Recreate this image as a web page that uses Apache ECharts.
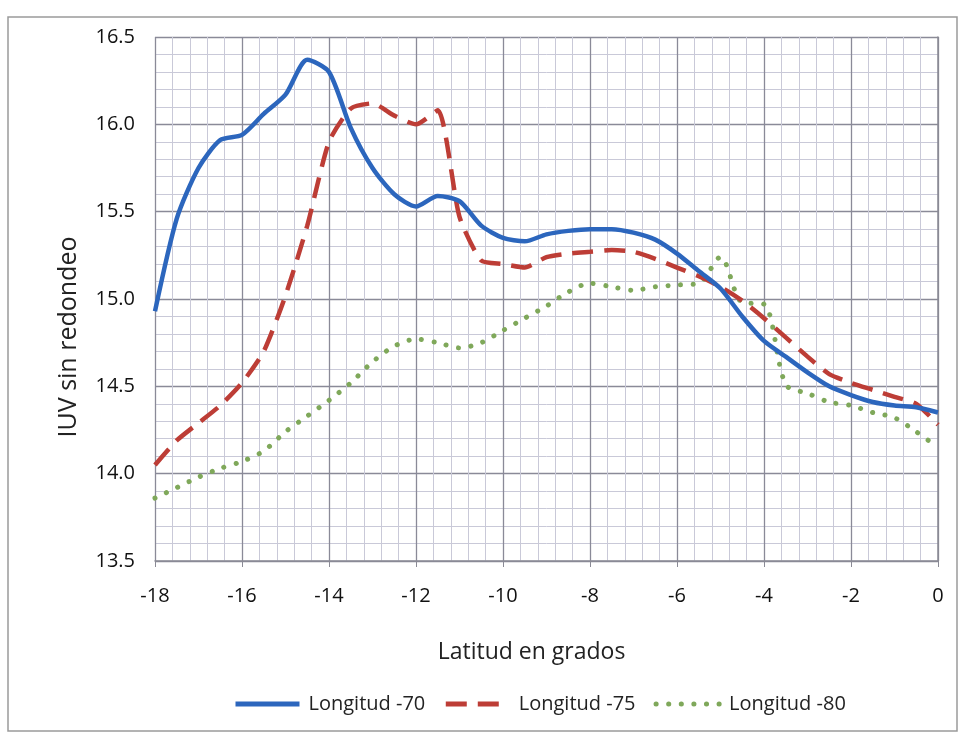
<!DOCTYPE html>
<html>
<head>
<meta charset="utf-8">
<script src="https://cdn.jsdelivr.net/npm/echarts@6/dist/echarts.min.js"></script>
<style>html,body{margin:0;padding:0;background:#fff;}#c{width:963px;height:734px;}</style>
</head>
<body>
<div id="c"></div>
<script>
const latitudes = [-18,-17.5,-17,-16.5,-16,-15.5,-15,-14.5,-14,-13.5,-13,-12.5,-12,-11.5,-11,-10.5,-10,-9.5,-9,-8.5,-8,-7.5,-7,-6.5,-6,-5.5,-5,-4.5,-4,-3.5,-3,-2.5,-2,-1.5,-1,-0.5,0];
const lon70 = [14.93,15.46,15.75,15.91,15.94,16.06,16.17,16.37,16.30,15.98,15.75,15.60,15.53,15.59,15.56,15.42,15.35,15.33,15.37,15.39,15.40,15.40,15.38,15.34,15.26,15.16,15.06,14.90,14.76,14.67,14.58,14.50,14.45,14.41,14.39,14.38,14.35];
const lon75 = [14.05,14.19,14.29,14.39,14.52,14.70,15.02,15.42,15.90,16.09,16.12,16.05,16.00,16.08,15.47,15.22,15.20,15.18,15.24,15.26,15.27,15.28,15.27,15.23,15.18,15.13,15.07,14.99,14.89,14.78,14.67,14.57,14.52,14.48,14.44,14.40,14.28];
const lon80 = [13.86,13.92,13.98,14.03,14.07,14.13,14.24,14.33,14.42,14.52,14.64,14.73,14.77,14.75,14.72,14.75,14.82,14.89,14.96,15.04,15.09,15.07,15.05,15.07,15.08,15.09,15.24,14.98,14.97,14.51,14.46,14.41,14.39,14.35,14.32,14.24,14.15];
const seriesNames = ['Longitud -70','Longitud -75','Longitud -80'];
const yTicks = [13.5,14.0,14.5,15.0,15.5,16.0,16.5];
const xTicks = [-18,-16,-14,-12,-10,-8,-6,-4,-2,0];

const font = '"Open Sans", Lato, sans-serif';
const pair = a => latitudes.map((x,i)=>[x,a[i]]);
const chart = echarts.init(document.getElementById('c'), null, {renderer:'canvas'});
chart.setOption({
  animation:false,
  backgroundColor:'#fff',
  graphic:[{type:'rect',shape:{x:8,y:17,width:949,height:714},style:{fill:'none',stroke:'#9a9a9a',lineWidth:1.5},z:-1}],
  grid:{left:155,right:25,top:37,bottom:173},
  legend:{
    top:689,left:228,itemWidth:64,itemHeight:14,itemGap:18,
    itemStyle:{opacity:0},
    lineStyle:{width:5},
    textStyle:{fontFamily:font,fontSize:20,color:'#222',padding:[0,0,0,4]},
    data:seriesNames
  },
  xAxis:{
    type:'value',min:xTicks[0],max:xTicks[xTicks.length-1],interval:2,
    name:'Latitud en grados',nameLocation:'middle',nameGap:80,
    nameTextStyle:{fontFamily:font,fontSize:23,color:'#222',padding:[0,30,0,0]},
    axisLine:{show:true,onZero:false,lineStyle:{color:'#8a8a95',width:1.5}},
    axisTick:{show:true,length:6,lineStyle:{color:'#8a8a95'}},
    axisLabel:{fontFamily:font,fontSize:20,color:'#111',margin:25},
    splitLine:{show:true,lineStyle:{color:'#8a8a98',width:1.3}},
    minorTick:{show:false,splitNumber:5},
    minorSplitLine:{show:true,lineStyle:{color:'#c9c9d8',width:1}}
  },
  yAxis:{
    type:'value',min:yTicks[0],max:yTicks[yTicks.length-1],interval:0.5,
    name:'IUV sin redondeo',nameLocation:'middle',nameGap:74,nameRotate:90,
    nameTextStyle:{fontFamily:font,fontSize:25,color:'#222',padding:[0,76,0,0]},
    axisLine:{show:true,lineStyle:{color:'#8a8a95',width:1.5}},
    axisTick:{show:true,length:6,lineStyle:{color:'#8a8a95'}},
    axisLabel:{fontFamily:font,fontSize:20,color:'#111',margin:20,formatter:v=>v.toFixed(1)},
    splitLine:{show:true,lineStyle:{color:'#8a8a98',width:1.3}},
    minorTick:{show:false,splitNumber:5},
    minorSplitLine:{show:true,lineStyle:{color:'#c9c9d8',width:1}}
  },
  series:[
    {name:seriesNames[0],type:'line',data:pair(lon70),showSymbol:false,symbol:'none',smooth:0.25,
     lineStyle:{color:'#2c66bd',width:4.5},itemStyle:{color:'#2c66bd'},z:4},
    {name:seriesNames[1],type:'line',data:pair(lon75),showSymbol:false,symbol:'none',smooth:0.2,
     lineStyle:{color:'#bd3d36',width:4.5,type:[21,11]},itemStyle:{color:'#bd3d36'},z:3},
    {name:seriesNames[2],type:'line',data:pair(lon80),showSymbol:false,symbol:'none',smooth:0.3,
     lineStyle:{color:'#7fa85a',width:5,type:[0.1,12.5],cap:'round'},itemStyle:{color:'#7fa85a'},z:2}
  ]
});
</script>
</body>
</html>
